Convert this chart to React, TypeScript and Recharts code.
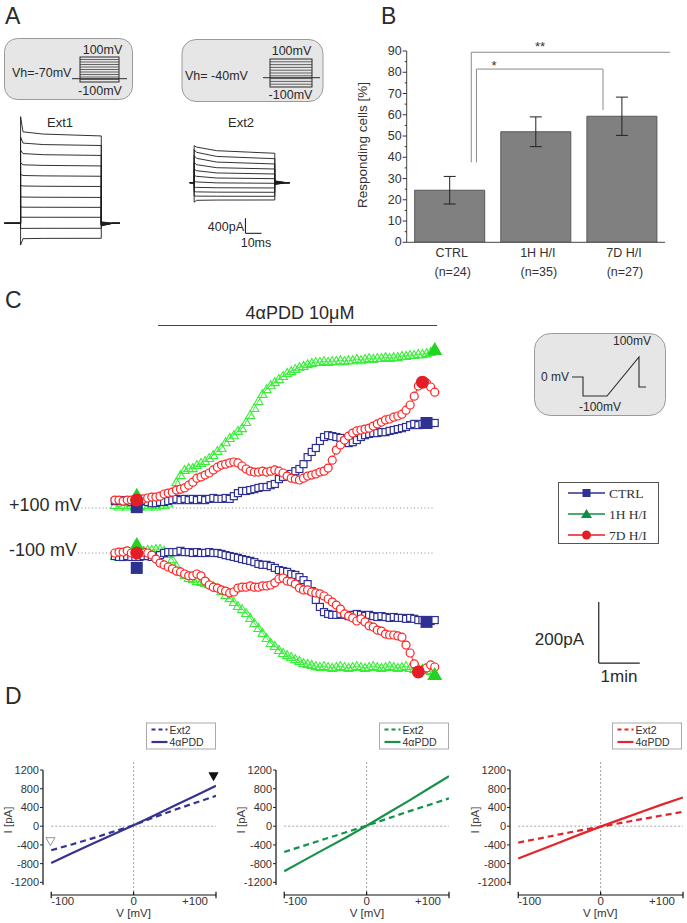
import React from 'react';
import {
  ComposedChart,
  LineChart,
  Line,
  Bar,
  ErrorBar,
  Scatter,
  XAxis,
  YAxis,
  ReferenceLine,
  ReferenceDot,
} from 'recharts';

const FONT = '"Liberation Sans", Arial, Helvetica, sans-serif';
const SERIF = '"Liberation Serif", "Times New Roman", serif';
const INK = '#2a2a2a';

// ---------- A: current traces, pA from holding current ----------
const EXT1_T = [-10, 0, 0, 1.5, 14, 50, 50, 57, 61.5];
const EXT1_ONSET = [2843, 2300, 1950, 1620, 1310, 1010, 710, 440, 165, -140, -580];
const EXT1_EARLY = [2440, 2140, 1860, 1560, 1275, 995, 700, 430, 162, -136, -410];
const EXT1_MID = [2380, 2100, 1830, 1545, 1265, 988, 695, 428, 161, -134, -402];
const EXT1_LATE = [2330, 2075, 1810, 1530, 1255, 982, 690, 425, 160, -133, -400];
const EXT1_TAIL = [-70, -60, -50, -40, -30, -20, -10, 0, 10, 20, 40];

const EXT2_T = [-2.7, 0, 0, 1.5, 14, 50, 50, 57, 59.2];
const EXT2_ONSET = [987, 880, 720, 540, 360, 190, 30, -120, -240, -355, -520];
const EXT2_EARLY = [950, 810, 650, 480, 320, 170, 20, -125, -245, -358, -470];
const EXT2_MID = [853, 700, 550, 400, 260, 125, -5, -135, -252, -361, -463];
const EXT2_LATE = [784, 640, 499, 365, 232, 107, -16, -141, -256, -363, -461];
const EXT2_TAIL = [-50, -40, -30, -20, -10, 0, 10, 20, 30, 40, 50];

const traceRows = (times: number[], onset: number[], early: number[], mid: number[], late: number[], tail: number[]) =>
  times.map((t, k) => {
    const row: any = { t };
    onset.forEach((_, s) => {
      row[`s${s}`] = [0, 0, onset[s], early[s], mid[s], late[s], tail[s], 0, 0][k];
    });
    return row;
  });

// ---------- B: responding cells ----------
const B_GROUPS = ['CTRL', '1H H/I', '7D H/I'];
const B_N = ['(n=24)', '(n=35)', '(n=27)'];
const B_PERCENT = [24.5, 52, 59.3];
const B_SEM = [6.5, 7, 9];
const B_TICKS = [0, 5, 10, 15, 20, 25, 30, 35, 40, 45, 50, 55, 60, 65, 70, 75, 80, 85, 90];
const B_SIG_FROM = [0.54, 0.5];
const B_SIG_TO = [1.52, 2.55];
const B_SIG_LOW = [37.6, 37.6];
const B_SIG_TOP = [81.5, 89.4];
const B_SIG_END = [62.2, 71.3];

// ---------- C: time course, sample every 6 s, pA change ----------
const C_STEP_S = 6;
const C_GREEN_UP = [10, 5, 10, 5, 10, 5, 5, 10, 5, 10, 5, 10, 10, 15,
  43, 85, 108, 125, 131, 131, 141, 148, 154, 164, 174, 187, 197, 216, 230, 239, 253, 262, 282, 305,
  328, 351, 374, 390, 403, 413, 423, 433, 443, 449, 456, 462, 466, 472, 476, 479, 479, 482, 479, 482,
  482, 485, 482, 485, 485, 489, 485, 489, 492, 489, 492, 492, 495, 492, 495, 495, 499, 499, 502, 502,
  505, 505, 508, 512, 518];
const C_BLUE_UP = [23, 26, 23, 26, 20, 23, 26, 23, 20, 16, 16, 20, 20, 23, 26, 30, 26, 30, 26, 30,
  26, 30, 26, 30, 33, 30, 30, 33, 30, 39, 49, 56, 56, 59, 62, 66, 69, 69, 75, 79,
  95, 102, 108, 112, 121, 128, 144, 167, 184, 197, 220, 233, 239, 236, 233, 230, 220, 213, 216, 223,
  233, 239, 243, 246, 246, 249, 249, 253, 256, 259, 262, 266, 272, 276, 272, 276, 279, 279, 279];
const C_RED_UP = [26, 26, 23, 26, 26, 26, 30, 30, 33, 36, 36, 39, 46, 49, 52, 59, 62, 66, 75, 85,
  98, 102, 108, 115, 125, 134, 141, 144, 148, 151, 148, 138, 128, 121, 118, 118, 121, 118, 121, 125,
  121, 115, 105, 98, 95, 92, 98, 105, 108, 112, 118, 121, 131, 157, 190, 207, 223, 236, 246, 253,
  256, 259, 262, 269, 276, 282, 289, 292, 298, 302, 308, 321, 338, 367, 400, 413, 410, 397, 380];
const C_GREEN_DOWN = [-10, -13, -10, -10, -7, -3, 3, 7, 10, 10, 13, 13, 7, -3, -20, -43, -62, -72, -82, -85,
  -92, -95, -98, -102, -108, -115, -125, -138, -148, -161, -174, -184, -197, -213, -230, -246, -262, -279, -295, -305,
  -318, -328, -335, -341, -348, -354, -361, -364, -367, -371, -374, -371, -374, -377, -374, -371, -374, -377, -374, -371,
  -374, -377, -374, -371, -374, -377, -374, -371, -374, -377, -374, -371, -377, -380, -377, -380, -384, -387, -394];
const C_BLUE_DOWN = [-10, -13, -13, -10, -13, -13, -13, -10, -10, -13, -10, -7, 0, 3, 3, 3, 7, 3, 3, 0,
  3, 0, 0, 3, 0, 0, -3, -7, -10, -13, -16, -20, -23, -26, -30, -36, -39, -39, -43, -49,
  -56, -59, -62, -69, -72, -79, -89, -102, -125, -154, -177, -194, -200, -203, -203, -200, -203, -207, -203, -200,
  -203, -207, -203, -207, -210, -207, -210, -213, -210, -213, -213, -216, -213, -216, -220, -220, -223, -223, -220];
const C_RED_DOWN = [0, 3, 3, 7, 0, 0, 0, 3, 0, -7, -20, -33, -39, -46, -52, -59, -62, -69, -75, -75,
  -69, -75, -92, -105, -112, -115, -121, -125, -131, -128, -115, -112, -112, -108, -112, -112, -108, -108, -105, -98,
  -85, -82, -92, -95, -102, -115, -121, -121, -128, -131, -134, -141, -151, -161, -171, -184, -200, -207, -213, -223,
  -216, -226, -239, -243, -253, -256, -266, -269, -269, -272, -276, -302, -328, -364, -390, -384, -377, -367, -374];

// big filled markers: start (Ext2) and end (4αPDD) readings
const C_BLUE_MARK_T = [32, 456];
const C_BLUE_MARK_UP = [3, 279];
const C_BLUE_MARK_DOWN = [-49, -226];
const C_GREEN_MARK_T = [32, 468];
const C_GREEN_MARK_UP = [40, 518];
const C_GREEN_MARK_DOWN = [26, -400];
const C_RED_MARK_T_UP = [32, 450];
const C_RED_MARK_UP = [26, 413];
const C_RED_MARK_T_DOWN = [32, 444];
const C_RED_MARK_DOWN = [0, -390];

// ---------- D: I-V curves ----------
const IV_VOLTS = [-100, -75, -50, -25, 0, 25, 50, 75, 100];
const IV_CTRL_EXT2 = [-513, -390, -260, -120, 20, 190, 350, 500, 648];
const IV_CTRL_PDD = [-785, -580, -375, -180, 20, 230, 440, 650, 862];
const IV_1H_EXT2 = [-550, -410, -270, -130, 10, 160, 310, 450, 593];
const IV_1H_PDD = [-963, -720, -480, -240, 10, 270, 530, 800, 1070];
const IV_7D_EXT2 = [-350, -265, -175, -90, -10, 70, 150, 230, 306];
const IV_7D_PDD = [-691, -520, -350, -175, -10, 150, 310, 465, 614];
const IV_XTICKS = [-100, 0, 100];
const IV_YTICKS = [-1200, -800, -400, 0, 400, 800, 1200];

const NAVY = '#2e3192';
const LIME = '#38ee38';
const LIME_FILL = '#22d422';
const RED = '#ff2222';
const RED_FILL = '#e41e26';
const LEG_GREEN = '#0f8f45';

// ---------- A charts ----------
function TraceChart({ left, top, width, height, xDomain, yDomain, rows, n, children }: any) {
  return (
    <div style={{ position: 'absolute', left, top }}>
      <LineChart width={width} height={height} data={rows} margin={{ top: 0, right: 0, bottom: 0, left: 0 }}>
        <XAxis dataKey="t" type="number" domain={xDomain} hide allowDataOverflow />
        <YAxis type="number" domain={yDomain} hide allowDataOverflow />
        {Array.from({ length: n }, (_, k) => (
          <Line key={k} type="linear" dataKey={`s${k}`} stroke="#1c1c1c" strokeWidth={0.9}
            dot={false} isAnimationActive={false} />
        ))}
        {children}
      </LineChart>
    </div>
  );
}

// ---------- B chart ----------
const BXTick = ({ x, y, payload, index }: any) => (
  <g>
    <text x={x + 2} y={y + 11} textAnchor="middle" dominantBaseline="central" fontSize={12.5} fill="#333">{payload.value}</text>
    <text x={x + 3} y={y + 30} textAnchor="middle" dominantBaseline="central" fontSize={12.5} fill="#333">{B_N[index]}</text>
  </g>
);

const BYTick = ({ x, y, payload }: any) => {
  const major = payload.value % 10 === 0;
  return (
    <g>
      <line x1={x + 5 - (major ? 4 : 2)} x2={x + 5} y1={y} y2={y} stroke="#333" />
      {major && (
        <text x={x} y={y} textAnchor="end" dominantBaseline="central" fontSize={12.5} fill="#333">{payload.value}</text>
      )}
    </g>
  );
};

function PanelB() {
  const rows = B_GROUPS.map((g, i) => ({ group: g, pct: B_PERCENT[i], sem: B_SEM[i] }));
  return (
    <div style={{ position: 'absolute', left: 340, top: 40 }}>
      <ComposedChart width={330} height={240} data={rows} margin={{ top: 11, right: 5, bottom: 0, left: 0 }}>
        <XAxis dataKey="group" height={37.7} tickLine={false} tickSize={0} tickMargin={0}
          axisLine={{ stroke: '#444' }} tick={<BXTick />} interval={0} />
        <XAxis xAxisId="pos" type="number" domain={[0, 3]} hide allowDataOverflow />
        <YAxis width={66.7} type="number" domain={[0, 90]} ticks={B_TICKS} interval={0} tickLine={false}
          tickSize={0} tickMargin={5} axisLine={{ stroke: '#444' }} tick={<BYTick />} allowDataOverflow />
        <Bar dataKey="pct" barSize={70} fill="#808080" stroke="#575757" isAnimationActive={false}>
          <ErrorBar dataKey="sem" width={6} stroke="#222" strokeWidth={1} />
        </Bar>
        {B_SIG_FROM.map((from, k) => (
          <React.Fragment key={k}>
            <ReferenceLine xAxisId="pos" segment={[{ x: from, y: B_SIG_LOW[k] }, { x: from, y: B_SIG_TOP[k] }]}
              stroke="#8a8a8a" ifOverflow="visible" />
            <ReferenceLine xAxisId="pos" segment={[{ x: from, y: B_SIG_TOP[k] }, { x: B_SIG_TO[k], y: B_SIG_TOP[k] }]}
              stroke="#8a8a8a" ifOverflow="visible" />
            <ReferenceLine xAxisId="pos" segment={[{ x: B_SIG_TO[k], y: B_SIG_TOP[k] }, { x: B_SIG_TO[k], y: B_SIG_END[k] }]}
              stroke="#8a8a8a" ifOverflow="visible" />
          </React.Fragment>
        ))}
      </ComposedChart>
    </div>
  );
}

// ---------- C chart ----------
const C_LEFT = 78;
const C_WIDTH = 572;
const C_XDOMAIN = [-54, 783];

const openSquare = (color: string) => (p: any) =>
  p.cx == null ? <g key={`n${p.index}`} /> : (
    <rect key={`q${p.index}`} x={p.cx - 3.5} y={p.cy - 3.5} width={7} height={7} fill="#fff" stroke={color} strokeWidth={1.2} />
  );
const openCircle = (color: string) => (p: any) =>
  p.cx == null ? <g key={`n${p.index}`} /> : (
    <circle key={`c${p.index}`} cx={p.cx} cy={p.cy} r={4} fill="#fff" stroke={color} strokeWidth={1.2} />
  );
const openTriangle = (color: string) => (p: any) =>
  p.cx == null ? <g key={`n${p.index}`} /> : (
    <polygon key={`t${p.index}`} points={`${p.cx},${p.cy - 4.5} ${p.cx - 4.5},${p.cy + 3.5} ${p.cx + 4.5},${p.cy + 3.5}`}
      fill="none" stroke={color} strokeWidth={1.1} />
  );

const bigSquare = (p: any) => <rect x={p.cx - 6} y={p.cy - 6} width={12} height={12} fill={NAVY} />;
const bigCircle = (p: any) => <circle cx={p.cx} cy={p.cy} r={6.5} fill={RED_FILL} />;
const bigTriangle = (p: any) => (
  <polygon points={`${p.cx},${p.cy - 8} ${p.cx - 7.5},${p.cy + 5} ${p.cx + 7.5},${p.cy + 5}`} fill={LIME_FILL} />
);

function TimeCourse({ top, height, yDomain, rows, marks, children }: any) {
  return (
    <div style={{ position: 'absolute', left: C_LEFT, top }}>
      <ComposedChart width={C_WIDTH} height={height} data={rows} margin={{ top: 0, right: 0, bottom: 0, left: 0 }}>
        <XAxis dataKey="t" type="number" domain={C_XDOMAIN} hide allowDataOverflow />
        <YAxis type="number" domain={yDomain} hide allowDataOverflow />
        <ReferenceLine segment={[{ x: C_XDOMAIN[0], y: 0 }, { x: 468, y: 0 }]} stroke="#8c8c8c" strokeDasharray="1 2.5" />
        {children}
        <Line type="linear" dataKey="green" stroke={LIME} strokeWidth={1} dot={openTriangle(LIME)} isAnimationActive={false} />
        <Line type="linear" dataKey="blue" stroke={NAVY} strokeWidth={1} dot={openSquare(NAVY)} isAnimationActive={false} />
        <Line type="linear" dataKey="red" stroke={RED} strokeWidth={1} dot={openCircle(RED)} isAnimationActive={false} />
        {marks.map((m: any, k: number) => (
          <Scatter key={k} data={m.data} dataKey="v" shape={m.shape} isAnimationActive={false} />
        ))}
      </ComposedChart>
    </div>
  );
}

function PanelC() {
  const upRows = C_GREEN_UP.map((g, i) => ({ t: i * C_STEP_S, green: g, blue: C_BLUE_UP[i], red: C_RED_UP[i] }));
  const downRows = C_GREEN_DOWN.map((g, i) => ({ t: i * C_STEP_S, green: g, blue: C_BLUE_DOWN[i], red: C_RED_DOWN[i] }));
  const pts = (ts: number[], vs: number[]) => ts.map((t, i) => ({ t, v: vs[i] }));
  const upMarks = [
    { shape: bigSquare, data: pts(C_BLUE_MARK_T, C_BLUE_MARK_UP) },
    { shape: bigTriangle, data: pts(C_GREEN_MARK_T, C_GREEN_MARK_UP) },
    { shape: bigCircle, data: pts(C_RED_MARK_T_UP, C_RED_MARK_UP) },
  ];
  const downMarks = [
    { shape: bigSquare, data: pts(C_BLUE_MARK_T, C_BLUE_MARK_DOWN) },
    { shape: bigTriangle, data: pts(C_GREEN_MARK_T, C_GREEN_MARK_DOWN) },
    { shape: bigCircle, data: pts(C_RED_MARK_T_DOWN, C_RED_MARK_DOWN) },
  ];
  return (
    <>
      <TimeCourse top={330} height={200} yDomain={[-72, 584]} rows={upRows} marks={upMarks} />
      <TimeCourse top={535} height={150} yDomain={[-433, 59]} rows={downRows} marks={downMarks}>
        {/* scale bar: 200 pA, 1 min */}
        <ReferenceLine segment={[{ x: 708, y: -161 }, { x: 708, y: -361 }]} stroke="#222" strokeWidth={1.2} />
        <ReferenceLine segment={[{ x: 708, y: -361 }, { x: 768, y: -361 }]} stroke="#222" strokeWidth={1.2} />
      </TimeCourse>
    </>
  );
}

// ---------- D charts ----------
const IVXTick = ({ x, y, payload }: any) => {
  const v = payload.value;
  return (
    <text x={x} y={y} dy="0.75em" textAnchor={v < 0 ? 'start' : v > 0 ? 'end' : 'middle'} fontSize={11.5} fill="#333">
      {v > 0 ? `+${v}` : v}
    </text>
  );
};

const downTri = (fill: string, stroke: string) => (p: any) => (
  <polygon points={`${p.cx - 4.5},${p.cy - 4} ${p.cx + 4.5},${p.cy - 4} ${p.cx},${p.cy + 4}`} fill={fill} stroke={stroke} strokeWidth={0.8} />
);

function IVChart({ left, color, ext2, pdd, marked }: any) {
  const rows = IV_VOLTS.map((v, i) => ({ v, ext2: ext2[i], pdd: pdd[i] }));
  const axis = { stroke: '#111', strokeWidth: 1.2, ifOverflow: 'visible' as const };
  return (
    <div style={{ position: 'absolute', left, top: 760 }}>
      <LineChart width={220} height={165} data={rows} margin={{ top: 10, right: 4, bottom: 0, left: 3 }}>
        <XAxis dataKey="v" type="number" domain={[-110, 100]} ticks={IV_XTICKS} tick={<IVXTick />}
          axisLine={false} tickLine={false} tickSize={0} tickMargin={1} height={30} allowDataOverflow />
        <YAxis type="number" domain={[-1470, 1200]} ticks={IV_YTICKS} interval={0} width={40} axisLine={false}
          tickSize={3} tickMargin={1} tickLine={{ stroke: '#222' }} tick={{ fontSize: 11, fill: '#333' }} allowDataOverflow />
        <ReferenceLine segment={[{ x: -100, y: 0 }, { x: 100, y: 0 }]} stroke="#8a8a8a" strokeWidth={0.8} strokeDasharray="2 2" />
        <ReferenceLine segment={[{ x: 0, y: 1457 }, { x: 0, y: -1430 }]} stroke="#8a8a8a" strokeWidth={0.8} strokeDasharray="2 2" ifOverflow="visible" />
        <ReferenceLine segment={[{ x: -110, y: 1200 }, { x: -110, y: -1257 }]} {...axis} />
        <ReferenceLine segment={[{ x: -100, y: -1470 }, { x: 100, y: -1470 }]} {...axis} />
        <ReferenceLine segment={[{ x: -100, y: -1400 }, { x: -100, y: -1540 }]} {...axis} />
        <ReferenceLine segment={[{ x: 100, y: -1400 }, { x: 100, y: -1540 }]} {...axis} />
        <ReferenceLine segment={[{ x: 0, y: -1400 }, { x: 0, y: -1470 }]} {...axis} />
        <Line type="linear" dataKey="ext2" stroke={color} strokeWidth={2.2} strokeDasharray="6 4" dot={false} isAnimationActive={false} />
        <Line type="linear" dataKey="pdd" stroke={color} strokeWidth={2.2} dot={false} isAnimationActive={false} />
        {marked && <ReferenceDot x={-101} y={-331} ifOverflow="visible" shape={downTri('#fff', '#777')} />}
        {marked && <ReferenceDot x={97} y={1058} ifOverflow="visible" shape={downTri('#111', '#111')} />}
      </LineChart>
    </div>
  );
}

const DLegend = ({ x, color }: any) => (
  <g>
    <rect x={x} y={723} width={69} height={26} fill="#fff" stroke="#aaa" />
    <line x1={x + 5} x2={x + 21} y1={729.5} y2={729.5} stroke={color} strokeWidth={2.2} strokeDasharray="4 3" />
    <line x1={x + 5} x2={x + 21} y1={742} y2={742} stroke={color} strokeWidth={2.2} />
    <text x={x + 23} y={729.5} dominantBaseline="central" fontSize={10.5} fill="#333">Ext2</text>
    <text x={x + 23} y={742} dominantBaseline="central" fontSize={10.5} fill="#333">4αPDD</text>
  </g>
);

const CLegendRow = ({ y, color, kind, label }: any) => (
  <g>
    <line x1={568} x2={605} y1={y} y2={y} stroke={color} strokeWidth={1.6} />
    {kind === 's' && <rect x={582.5} y={y - 4} width={8} height={8} fill={color} />}
    {kind === 't' && <polygon points={`586.5,${y - 5} 581,${y + 4} 592,${y + 4}`} fill={color} />}
    {kind === 'c' && <circle cx={586.5} cy={y} r={4.5} fill={color} />}
    <text x={609} y={y} dominantBaseline="central" fontSize={13.5} fontFamily={SERIF} fill="#333">{label}</text>
  </g>
);

function Overlay() {
  const steps1 = [59.5, 62, 64.5, 67, 69.5, 72, 74.5, 77, 79.5];
  const steps2 = [61.8, 64.6, 67.4, 70.2, 73, 75.8, 78.6, 81.4, 84.2];
  return (
    <svg width={687} height={923} style={{ position: 'absolute', left: 0, top: 0, pointerEvents: 'none' }} fontFamily={FONT}>
      {/* A */}
      <text x={5} y={16} dominantBaseline="central" fontSize={23} fill={INK}>A</text>
      <rect x={4.5} y={38.5} width={128} height={61} rx={13} fill="#e6e6e6" stroke="#9a9a9a" />
      <text x={102.5} y={49.5} textAnchor="middle" dominantBaseline="central" fontSize={12.5} fill={INK}>100mV</text>
      <text x={12} y={72.7} dominantBaseline="central" fontSize={12.5} fill={INK}>Vh=-70mV</text>
      <text x={100} y={91} textAnchor="middle" dominantBaseline="central" fontSize={12.5} fill={INK}>-100mV</text>
      <line x1={72} x2={127} y1={78.7} y2={78.7} stroke={INK} />
      <rect x={80} y={57} width={39} height={25} fill="none" stroke={INK} />
      {steps1.map((y) => <line key={y} x1={80} x2={119} y1={y} y2={y} stroke={INK} strokeWidth={0.7} />)}

      <rect x={182} y={39.5} width={141} height={62} rx={14} fill="#e6e6e6" stroke="#9a9a9a" />
      <text x={291.5} y={50.7} textAnchor="middle" dominantBaseline="central" fontSize={12.5} fill={INK}>100mV</text>
      <text x={185} y={76} dominantBaseline="central" fontSize={12.5} fill={INK}>Vh= -40mV</text>
      <text x={290.5} y={95} textAnchor="middle" dominantBaseline="central" fontSize={12.5} fill={INK}>-100mV</text>
      <line x1={263} x2={320} y1={77.7} y2={77.7} stroke={INK} />
      <rect x={270} y={59} width={42} height={28} fill="none" stroke={INK} />
      {steps2.map((y) => <line key={y} x1={270} x2={312} y1={y} y2={y} stroke={INK} strokeWidth={0.7} />)}

      <text x={60} y={122} textAnchor="middle" dominantBaseline="central" fontSize={13} fill={INK}>Ext1</text>
      <text x={241} y={122} textAnchor="middle" dominantBaseline="central" fontSize={13} fill={INK}>Ext2</text>
      <text x={244} y={227} textAnchor="end" dominantBaseline="central" fontSize={12.5} fill={INK}>400pA</text>
      <text x={256} y={243} textAnchor="middle" dominantBaseline="central" fontSize={12.5} fill={INK}>10ms</text>

      {/* B */}
      <text x={381} y={16} dominantBaseline="central" fontSize={23} fill={INK}>B</text>
      <text x={0} y={0} transform="translate(362,145) rotate(-90)" textAnchor="middle" dominantBaseline="central"
        fontSize={13.5} fill="#333">Responding cells [%]</text>
      <text x={494} y={65} textAnchor="middle" dominantBaseline="central" fontSize={13} fill="#333">*</text>
      <text x={540} y={46} textAnchor="middle" dominantBaseline="central" fontSize={13} fill="#333">**</text>

      {/* C */}
      <text x={5} y={300} dominantBaseline="central" fontSize={23} fill={INK}>C</text>
      <text x={300} y={313} textAnchor="middle" dominantBaseline="central" fontSize={18} fill={INK}>4αPDD 10μM</text>
      <line x1={158} x2={437} y1={325.5} y2={325.5} stroke="#444" />
      <text x={9} y={505} dominantBaseline="central" fontSize={18} fill={INK}>+100 mV</text>
      <text x={9} y={550} dominantBaseline="central" fontSize={18} fill={INK}>-100 mV</text>

      <rect x={534.5} y={333.5} width={131} height={82} rx={16} fill="#e6e6e6" stroke="#9a9a9a" />
      <text x={632} y={341} textAnchor="middle" dominantBaseline="central" fontSize={12} fill={INK}>100mV</text>
      <text x={569} y={377} textAnchor="end" dominantBaseline="central" fontSize={12} fill={INK}>0 mV</text>
      <text x={600} y={407} textAnchor="middle" dominantBaseline="central" fontSize={12} fill={INK}>-100mV</text>
      <path d="M572,377 H583 V396 H607 L639,357 V387 H646" fill="none" stroke={INK} strokeWidth={1.1} />

      <rect x={558.5} y={482.5} width={100} height={61} fill="#fff" stroke="#555" />
      <CLegendRow y={493} color={NAVY} kind="s" label="CTRL" />
      <CLegendRow y={514} color={LEG_GREEN} kind="t" label="1H H/I" />
      <CLegendRow y={535} color={RED_FILL} kind="c" label="7D H/I" />

      <text x={584} y={639} textAnchor="end" dominantBaseline="central" fontSize={17} fill={INK}>200pA</text>
      <text x={619} y={676} textAnchor="middle" dominantBaseline="central" fontSize={17} fill={INK}>1min</text>

      {/* D */}
      <text x={5} y={696} dominantBaseline="central" fontSize={23} fill={INK}>D</text>
      <DLegend x={146.5} color="#35348f" />
      <DLegend x={379.5} color="#17924a" />
      <DLegend x={612.5} color="#e3242b" />
      {[0, 233.3, 466.6].map((l) => (
        <g key={l}>
          <text x={0} y={0} transform={`translate(${l + 8},820) rotate(-90)`} textAnchor="middle" dominantBaseline="central"
            fontSize={11.5} fill="#444">I [pA]</text>
          <text x={l + 133.6} y={913} textAnchor="middle" dominantBaseline="central" fontSize={11.5} fill="#333">V [mV]</text>
        </g>
      ))}
    </svg>
  );
}

export default function App() {
  const ext1Rows = traceRows(EXT1_T, EXT1_ONSET, EXT1_EARLY, EXT1_MID, EXT1_LATE, EXT1_TAIL);
  const ext2Rows = traceRows(EXT2_T, EXT2_ONSET, EXT2_EARLY, EXT2_MID, EXT2_LATE, EXT2_TAIL);
  return (
    <div style={{ position: 'absolute', left: 0, top: 0, width: 687, height: 923, overflow: 'hidden',
      background: '#fff', fontFamily: FONT }}>
      <TraceChart left={-1.6} top={110} width={129.1} height={140} xDomain={[-14, 66]} yDomain={[-712, 3022]}
        rows={ext1Rows} n={EXT1_ONSET.length} />
      <TraceChart left={178.2} top={130} width={121} height={110} xDomain={[-10, 65]} yDomain={[-1528, 1405]}
        rows={ext2Rows} n={EXT2_ONSET.length}>
        <ReferenceLine segment={[{ x: 31.8, y: -950 }, { x: 31.8, y: -1350 }]} stroke="#222" strokeWidth={1.1} />
        <ReferenceLine segment={[{ x: 31.8, y: -1350 }, { x: 41.8, y: -1350 }]} stroke="#222" strokeWidth={1.1} />
      </TraceChart>
      <PanelB />
      <PanelC />
      <IVChart left={0} color="#35348f" ext2={IV_CTRL_EXT2} pdd={IV_CTRL_PDD} marked />
      <IVChart left={233.3} color="#17924a" ext2={IV_1H_EXT2} pdd={IV_1H_PDD} />
      <IVChart left={466.6} color="#e3242b" ext2={IV_7D_EXT2} pdd={IV_7D_PDD} />
      <Overlay />
    </div>
  );
}
